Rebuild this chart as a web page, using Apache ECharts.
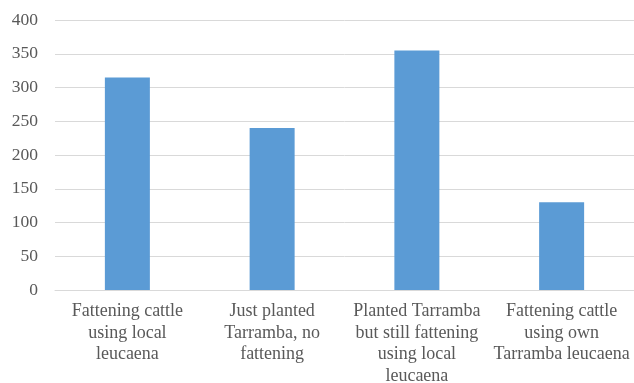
<!DOCTYPE html>
<html>
<head>
<meta charset="utf-8">
<script src="https://cdn.jsdelivr.net/npm/echarts@6/dist/echarts.min.js"></script>
<style>
  html, body { margin: 0; padding: 0; background: #fff; }
  #chart { width: 634px; height: 383px; }
</style>
</head>
<body>
<div id="chart"></div>
<script>
// data
var categories = [
  "Fattening cattle\nusing local\nleucaena",
  "Just planted\nTarramba, no\nfattening",
  "Planted Tarramba\nbut still fattening\nusing local\nleucaena",
  "Fattening cattle\nusing own\nTarramba leucaena"
];
var values = [315, 240, 355, 130];
var yTicks = { min: 0, max: 400, interval: 50 };

var chart = echarts.init(document.getElementById("chart"));
chart.setOption({
  animation: false,
  textStyle: { fontFamily: "Liberation Serif" },
  grid: { left: 55, right: 0, top: 20, bottom: 93, outerBoundsMode: "none" },
  xAxis: {
    type: "category",
    data: categories,
    axisTick: { show: false },
    axisLine: { lineStyle: { color: "#d9d9d9", width: 1 } },
    axisLabel: {
      interval: 0,
      color: "#595959",
      fontSize: 18,
      lineHeight: 21.5,
      margin: 11,
      fontFamily: "Liberation Serif"
    }
  },
  yAxis: {
    type: "value",
    min: yTicks.min,
    max: yTicks.max,
    interval: yTicks.interval,
    axisLine: { show: false },
    axisTick: { show: false },
    splitLine: { lineStyle: { color: "#d9d9d9", width: 1 } },
    axisLabel: {
      color: "#595959",
      fontSize: 17.5,
      margin: 17,
      fontFamily: "Liberation Serif"
    }
  },
  series: [{
    type: "bar",
    data: values,
    barWidth: 45,
    itemStyle: { color: "#5b9bd5" }
  }]
});
</script>
</body>
</html>
